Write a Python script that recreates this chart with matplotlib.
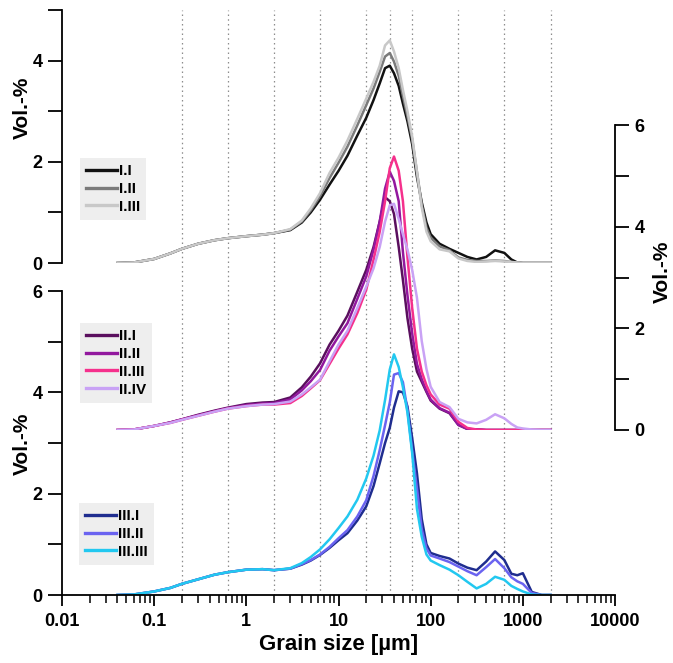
import matplotlib
matplotlib.use("Agg")
import matplotlib.pyplot as plt
from matplotlib.ticker import FixedLocator, LogLocator, NullFormatter, FixedFormatter
from matplotlib.font_manager import FontProperties

plt.rcParams['font.family'] = ['Liberation Sans', 'DejaVu Sans']
plt.rcParams['font.weight'] = 'bold'

# grain size classes [µm]
size = [0.04, 0.06, 0.1, 0.15, 0.2, 0.3, 0.45, 0.63, 1, 1.5, 2, 3, 4, 5, 6.3, 8, 10, 12.5,
        16, 20, 24, 28, 32, 36, 40, 45, 50, 56, 63, 71, 80, 90, 100, 125, 160, 200, 250,
        315, 400, 500, 630, 750, 870, 1000, 1250, 1600, 2000]

# class boundaries drawn as dotted lines
bounds = [0.2, 0.63, 2, 6.3, 20, 36, 63, 200, 630, 2000]

# group I (top axis)
top_names = ['I.I', 'I.II', 'I.III']
top_colors = ['#111111', '#7a7a7a', '#c8c8c8']
i_1 = [0, 0.01, 0.08, 0.19, 0.28, 0.38, 0.45, 0.49, 0.53, 0.56, 0.59, 0.65, 0.8, 1.0, 1.25,
       1.55, 1.82, 2.12, 2.52, 2.87, 3.22, 3.55, 3.85, 3.9, 3.75, 3.5, 3.15, 2.8, 2.35, 1.7,
       1.2, 0.8, 0.57, 0.38, 0.28, 0.2, 0.12, 0.07, 0.12, 0.25, 0.2, 0.07, 0.01, 0, 0, 0, 0]
i_2 = [0, 0.01, 0.08, 0.19, 0.28, 0.38, 0.45, 0.49, 0.53, 0.56, 0.59, 0.66, 0.82, 1.04, 1.32,
       1.68, 1.98, 2.3, 2.72, 3.12, 3.45, 3.78, 4.08, 4.15, 3.98, 3.7, 3.3, 2.9, 2.45, 1.8,
       1.15, 0.7, 0.5, 0.33, 0.25, 0.11, 0.06, 0.04, 0.04, 0.05, 0.04, 0.02, 0.01, 0, 0, 0, 0]
i_3 = [0, 0.01, 0.08, 0.19, 0.28, 0.38, 0.45, 0.49, 0.53, 0.56, 0.59, 0.67, 0.84, 1.08, 1.38,
       1.78, 2.08, 2.42, 2.85, 3.25, 3.58, 3.9, 4.3, 4.4, 4.18, 3.85, 3.42, 3.0, 2.5, 1.8,
       1.1, 0.62, 0.43, 0.27, 0.23, 0.09, 0.04, 0.02, 0.03, 0.04, 0.03, 0.02, 0.01, 0, 0, 0, 0]

# group II (middle axis, right)
mid_names = ['II.I', 'II.II', 'II.III', 'II.IV']
mid_colors = ['#5a0f5e', '#92189e', '#f5308c', '#c9a2f5']
ii_1 = [0, 0.01, 0.08, 0.15, 0.21, 0.3, 0.38, 0.44, 0.51, 0.54, 0.55, 0.64, 0.84, 1.05, 1.31,
        1.68, 1.95, 2.25, 2.72, 3.15, 3.6, 4.1, 4.58, 4.5, 4.25, 3.6, 2.95, 2.2, 1.6, 1.15,
        0.95, 0.75, 0.58, 0.42, 0.33, 0.1, 0.02, 0.01, 0, 0, 0, 0, 0, 0, 0, 0, 0]
ii_2 = [0, 0.01, 0.08, 0.15, 0.21, 0.29, 0.37, 0.43, 0.49, 0.52, 0.53, 0.6, 0.78, 0.96, 1.18,
        1.56, 1.84, 2.1, 2.58, 3.02, 3.55, 4.1, 4.75, 5.08, 4.9, 4.5, 3.5, 2.65, 1.9, 1.3,
        1.0, 0.77, 0.6, 0.43, 0.34, 0.1, 0.02, 0.01, 0, 0, 0, 0, 0, 0, 0, 0, 0]
ii_3 = [0, 0.01, 0.08, 0.14, 0.2, 0.28, 0.36, 0.42, 0.47, 0.5, 0.5, 0.53, 0.67, 0.82, 0.98,
        1.3, 1.6, 1.88, 2.3, 2.76, 3.35, 3.9, 4.5, 5.15, 5.38, 5.1, 4.5, 3.4, 2.4, 1.6,
        1.15, 0.88, 0.7, 0.5, 0.42, 0.16, 0.04, 0.01, 0, 0, 0, 0, 0, 0, 0, 0, 0]
ii_4 = [0, 0.01, 0.08, 0.14, 0.2, 0.28, 0.36, 0.42, 0.47, 0.5, 0.51, 0.56, 0.7, 0.84, 0.99,
        1.35, 1.68, 1.95, 2.4, 2.82, 3.18, 3.6, 4.1, 4.42, 4.45, 4.15, 3.85, 3.55, 3.15, 2.6,
        1.75, 1.2, 0.85, 0.55, 0.45, 0.22, 0.15, 0.13, 0.2, 0.31, 0.23, 0.12, 0.05, 0.03, 0.01, 0, 0]

# group III (bottom axis)
bot_names = ['III.I', 'III.II', 'III.III']
bot_colors = ['#1f2d8f', '#6a63f0', '#22c8f0']
iii_1 = [0, 0.01, 0.07, 0.14, 0.22, 0.31, 0.4, 0.45, 0.5, 0.51, 0.49, 0.52, 0.6, 0.68, 0.79,
         0.93, 1.08, 1.22, 1.47, 1.75, 2.15, 2.6, 3.0, 3.3, 3.7, 4.02, 4.0, 3.72, 3.1, 2.4,
         1.5, 1.0, 0.83, 0.77, 0.72, 0.62, 0.54, 0.49, 0.66, 0.86, 0.69, 0.42, 0.39, 0.43, 0.06, 0, 0]
iii_2 = [0, 0.01, 0.07, 0.14, 0.22, 0.31, 0.4, 0.45, 0.5, 0.51, 0.49, 0.52, 0.61, 0.69, 0.8,
         0.95, 1.12, 1.28, 1.55, 1.87, 2.35, 2.86, 3.35, 3.8, 4.35, 4.38, 4.2, 3.65, 2.85, 2.1,
         1.3, 0.92, 0.78, 0.72, 0.65, 0.56, 0.47, 0.39, 0.55, 0.71, 0.53, 0.35, 0.27, 0.22, 0.04, 0, 0]
iii_3 = [0, 0.01, 0.07, 0.14, 0.22, 0.31, 0.4, 0.45, 0.5, 0.51, 0.49, 0.53, 0.63, 0.75, 0.9,
         1.1, 1.32, 1.55, 1.88, 2.3, 2.75, 3.25, 3.85, 4.45, 4.75, 4.5, 4.1, 3.6, 2.8, 1.7,
         1.15, 0.8, 0.68, 0.59, 0.5, 0.39, 0.26, 0.13, 0.22, 0.36, 0.3, 0.18, 0.12, 0.07, 0.01, 0, 0]

W, H = 673, 663
fig = plt.figure(figsize=(W / 100, H / 100), dpi=100)

x0, x1 = 62, 615
L, AW = x0 / W, (x1 - x0) / W


def add_ax(ypix0, ypix1):
    # ypix0 = pixel row of the zero line, ypix1 = pixel row of the top
    ax = fig.add_axes([L, (H - ypix0) / H, AW, (ypix0 - ypix1) / H])
    ax.set_xscale('log')
    ax.set_xlim(0.01, 10000)
    ax.patch.set_alpha(0)
    for s in ax.spines.values():
        s.set_visible(False)
        s.set_linewidth(1.3)
    ax.tick_params(axis='x', which='both', bottom=False, labelbottom=False)
    ax.tick_params(axis='y', length=10, width=1.3, labelsize=13, pad=4)
    return ax


# background axis carrying the dotted class lines
ax_bg = fig.add_axes([L, (H - 595) / H, AW, (595 - 10) / H])
ax_bg.set_xscale('log')
ax_bg.set_xlim(0.01, 10000)
ax_bg.axis('off')
for b in bounds:
    ax_bg.axvline(b, color='#8c8c8c', lw=0.9, ls=(0, (1.2, 2.6)))

ax_bot = add_ax(595, 291)
ax_mid = add_ax(430, 125)
ax_top = add_ax(263, 10)

ax_top.set_ylim(0, 5)
ax_top.spines['left'].set_visible(True)
ax_top.yaxis.set_major_locator(FixedLocator([0, 1, 2, 3, 4, 5]))
ax_top.yaxis.set_major_formatter(FixedFormatter(['0', '', '2', '', '4', '']))

ax_mid.set_ylim(0, 6)
ax_mid.spines['right'].set_visible(True)
ax_mid.yaxis.tick_right()
ax_mid.yaxis.set_major_locator(FixedLocator([0, 1, 2, 3, 4, 5, 6]))
ax_mid.yaxis.set_major_formatter(FixedFormatter(['0', '', '2', '', '4', '', '6']))

ax_bot.set_ylim(0, 6)
ax_bot.spines['left'].set_visible(True)
ax_bot.spines['bottom'].set_visible(True)
ax_bot.yaxis.set_major_locator(FixedLocator([0, 1, 2, 3, 4, 5, 6]))
ax_bot.yaxis.set_major_formatter(FixedFormatter(['0', '', '2', '', '4', '', '6']))
ax_bot.tick_params(axis='x', which='both', bottom=True, labelbottom=True)
ax_bot.xaxis.set_major_locator(FixedLocator([0.01, 0.1, 1, 10, 100, 1000, 10000]))
ax_bot.xaxis.set_major_formatter(FixedFormatter(['0.01', '0.1', '1', '10', '100', '1000', '10000']))
ax_bot.xaxis.set_minor_locator(LogLocator(base=10, subs=range(2, 10), numticks=20))
ax_bot.xaxis.set_minor_formatter(NullFormatter())
ax_bot.tick_params(axis='x', which='major', length=8, width=1.3, labelsize=13, pad=5)
ax_bot.tick_params(axis='x', which='minor', length=5.5, width=1.1)
ax_bot.set_xlabel('Grain size [µm]', fontsize=16, fontweight='bold', labelpad=3)

lw = 1.8
for vals, name, col in zip([i_1, i_2, i_3], top_names, top_colors):
    ax_top.plot(size, vals, color=col, lw=lw, label=name)
for vals, name, col in zip([ii_1, ii_2, ii_3, ii_4], mid_names, mid_colors):
    ax_mid.plot(size, vals, color=col, lw=lw, label=name)
for vals, name, col in zip([iii_1, iii_2, iii_3], bot_names, bot_colors):
    ax_bot.plot(size, vals, color=col, lw=lw, label=name)

fig.text(22 / W, 1 - 108 / H, 'Vol.-%', rotation=90, ha='center', va='center',
         fontsize=15, fontweight='bold')
fig.text(22 / W, 1 - 444 / H, 'Vol.-%', rotation=90, ha='center', va='center',
         fontsize=15, fontweight='bold')
fig.text(662 / W, 1 - 272 / H, 'Vol.-%', rotation=90, ha='center', va='center',
         fontsize=15, fontweight='bold')

leg_font = FontProperties(family=['Liberation Sans Narrow', 'Liberation Sans'],
                          weight='bold', size=11)
for ax, (lx, ly) in zip([ax_top, ax_mid, ax_bot], [(80, 158), (80, 323), (79, 503)]):
    leg = ax.legend(loc='upper left', bbox_to_anchor=(lx / W, 1 - ly / H),
                    bbox_transform=fig.transFigure, frameon=True, fancybox=False,
                    facecolor='#eeeeee', edgecolor='none', framealpha=1, prop=leg_font,
                    handlelength=2.0, handletextpad=0.15, labelspacing=0.25,
                    borderpad=0.4, borderaxespad=0)
    for line in leg.get_lines():
        line.set_linewidth(2.4)

fig.savefig('out.png', dpi=100)
